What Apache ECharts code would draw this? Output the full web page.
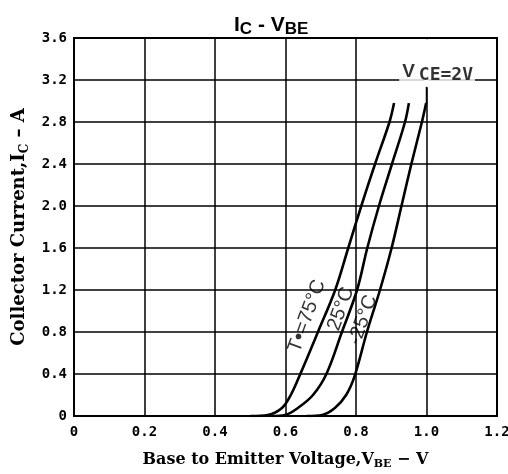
<!DOCTYPE html>
<html>
<head>
<meta charset="utf-8">
<script src="https://cdn.jsdelivr.net/npm/echarts@6/dist/echarts.min.js"></script>
<style>html,body{margin:0;padding:0;background:#fff}#c{width:508px;height:474px}</style>
</head>
<body>
<div id="c"></div>
<script>
// Data (V_BE in volts, I_C in amperes)
var xTicks = [0, 0.2, 0.4, 0.6, 0.8, 1.0, 1.2];
var yTicks = [0, 0.4, 0.8, 1.2, 1.6, 2.0, 2.4, 2.8, 3.2, 3.6];
var curve75 = [[0.50,0],[0.55,0.01],[0.59,0.076],[0.615,0.2],[0.642,0.4],[0.692,0.8],[0.741,1.2],[0.778,1.6],[0.815,2.0],[0.854,2.4],[0.895,2.8],[0.908,2.98]];
var curve25 = [[0.56,0],[0.599,0.01],[0.635,0.076],[0.678,0.2],[0.716,0.4],[0.76,0.8],[0.803,1.2],[0.832,1.6],[0.865,2.0],[0.902,2.4],[0.939,2.8],[0.95,2.98]];
var curveM25 = [[0.66,0],[0.704,0.01],[0.74,0.076],[0.772,0.2],[0.796,0.38],[0.831,0.8],[0.868,1.2],[0.901,1.6],[0.929,2.0],[0.957,2.4],[0.987,2.8],[0.999,2.98]];
var curveLabels = [
  {name: 'T{s|•}=75°C', value: [0.661, 0.952]},
  {name: '25°C', value: [0.757, 1.02]},
  {name: '-25°C', value: [0.82, 0.914]}
];
var vceLabel = {name: '{v|V}{c|CE=2V}', value: [1.03, 3.267]};
var leader = [[1.0, 2.98], [1.0, 3.14]];
var gapCover = [[1.0, 3.13], [1.0, 3.588]];

var chart = echarts.init(document.getElementById('c'), null, {renderer: 'canvas'});
var fmt = function (v) { return v === 0 ? '0' : v.toFixed(1); };
var tickFont = {color: '#000', fontFamily: 'DejaVu Sans Mono', fontWeight: 'bold', fontSize: 14};
var curveStyle = {color: '#000', width: 2.6};
var serif = 'DejaVu Serif';
chart.setOption({
  backgroundColor: '#fff',
  animation: false,
  title: {
    text: '{a|I}{s|C}{a| - V}{s|BE}',
    left: 229, top: 8,
    z: 10,
    textStyle: {
      rich: {
        a: {fontFamily: 'Liberation Sans', fontWeight: 'bold', fontSize: 21, color: '#000'},
        s: {fontFamily: 'Liberation Sans', fontWeight: 'bold', fontSize: 17, color: '#000', padding: [8, 0, 0, 0]}
      }
    }
  },
  grid: {left: 74, right: 11, top: 38, bottom: 58, show: true, borderColor: '#000', borderWidth: 2, backgroundColor: '#fff', containLabel: false, outerBoundsMode: 'none'},
  xAxis: {
    type: 'value', min: 0, max: 1.2, interval: 0.2,
    axisLine: {show: true, lineStyle: {color: '#000', width: 2}},
    axisTick: {show: false},
    splitLine: {show: true, lineStyle: {color: '#000', width: 1.5}},
    axisLabel: Object.assign({margin: 9, formatter: fmt}, tickFont),
    name: '{a|Base to Emitter Voltage,V}{s|BE}{a| − V}',
    nameLocation: 'middle', nameGap: 34,
    nameTextStyle: {
      rich: {
        a: {fontFamily: serif, fontWeight: 'bold', fontSize: 16, color: '#000'},
        s: {fontFamily: serif, fontWeight: 'bold', fontSize: 11, color: '#000', padding: [9, 0, 0, 0]}
      }
    }
  },
  yAxis: {
    type: 'value', min: 0, max: 3.6, interval: 0.4,
    axisLine: {show: true, lineStyle: {color: '#000', width: 2}},
    axisTick: {show: false},
    splitLine: {show: true, lineStyle: {color: '#000', width: 1.5}},
    axisLabel: Object.assign({margin: 7, formatter: fmt}, tickFont),
    name: '{a|Collector Current,I}{s|C}{a| – A}',
    nameLocation: 'middle', nameGap: 43,
    nameTextStyle: {
      rich: {
        a: {fontFamily: serif, fontWeight: 'bold', fontSize: 18, color: '#000'},
        s: {fontFamily: serif, fontWeight: 'bold', fontSize: 12, color: '#000', padding: [10, 0, 0, 0]}
      }
    }
  },
  series: [
    {type: 'line', data: gapCover, symbol: 'none', lineStyle: {color: '#fff', width: 4}, silent: true, z: 1},
    {type: 'line', name: '75', data: curve75, smooth: 0.35, symbol: 'none', lineStyle: curveStyle},
    {type: 'line', name: '25', data: curve25, smooth: 0.35, symbol: 'none', lineStyle: curveStyle},
    {type: 'line', name: '-25', data: curveM25, smooth: 0.35, symbol: 'none', lineStyle: curveStyle},
    {type: 'line', data: leader, symbol: 'none', lineStyle: {color: '#000', width: 1.5}},
    {
      type: 'scatter', symbolSize: 0, data: curveLabels, z: 5,
      label: {
        show: true, position: 'inside', rotate: 70, formatter: function (p) { return p.name; },
        fontFamily: 'Liberation Sans', fontSize: 20, color: '#000',
        rich: {s: {fontFamily: 'Liberation Sans', fontSize: 20, fontWeight: 'bold', color: '#000'}}
      }
    },
    {
      type: 'scatter', symbolSize: 0, data: [vceLabel], z: 5,
      label: {
        show: true, position: 'inside', formatter: function (p) { return p.name; },
        backgroundColor: '#fff', padding: [3, 2, 3, 3],
        rich: {
          v: {fontFamily: 'Liberation Sans', fontSize: 19, fontWeight: 'bold', color: '#000', padding: [0, 4, 2, 0]},
          c: {fontFamily: 'DejaVu Sans Mono', fontSize: 18, fontWeight: 'bold', color: '#000', padding: [4, 0, 0, 0]}
        }
      }
    }
  ]
});
</script>
</body>
</html>
